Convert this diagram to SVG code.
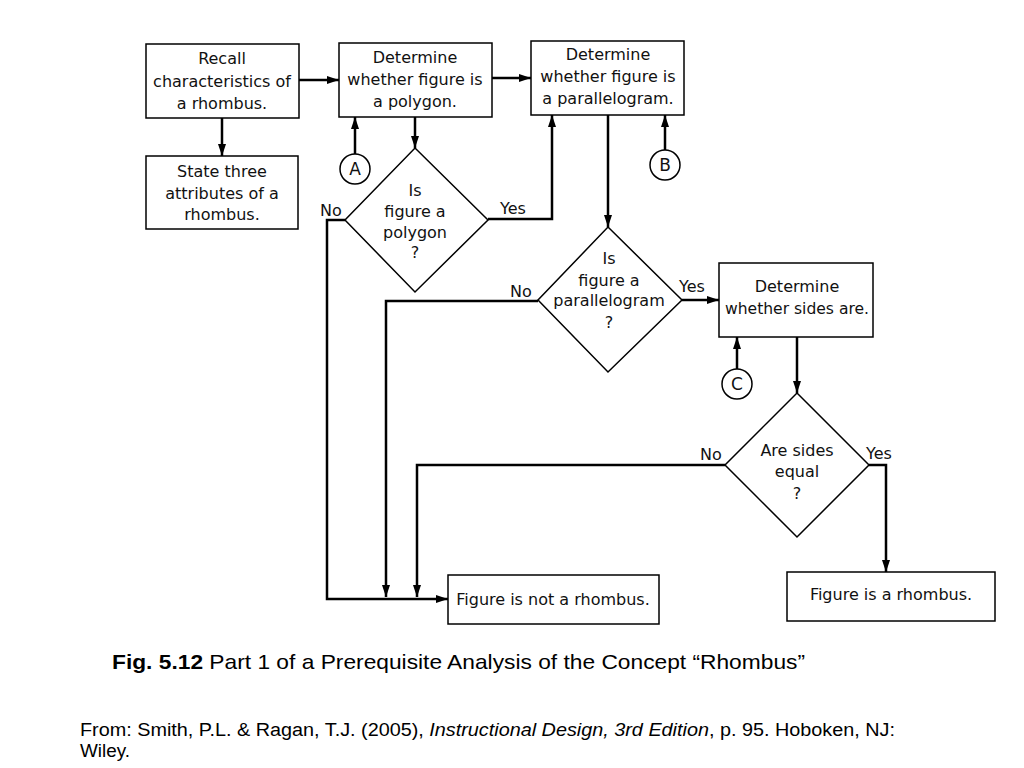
<svg xmlns="http://www.w3.org/2000/svg" width="1024" height="768" viewBox="0 0 1024 768">
<defs>
<marker id="ah" viewBox="0 0 12 8" refX="12" refY="4" markerWidth="12" markerHeight="8" markerUnits="userSpaceOnUse" orient="auto">
<path d="M0,0 L12,4 L0,8 Z" fill="#000"/>
</marker>
</defs>
<style>
.box{fill:#fff;stroke:#000;stroke-width:1.5}
.t{font-family:"DejaVu Sans",sans-serif;font-size:16px;text-anchor:middle;fill:#111}
.lb{font-family:"DejaVu Sans",sans-serif;font-size:16px;fill:#111}
.cl{font-family:"DejaVu Sans",sans-serif;font-size:17px;text-anchor:middle;fill:#111}
.c{fill:none;stroke:#000;stroke-width:2.5}
.a{marker-end:url(#ah)}
.cap{font-family:"Liberation Sans",Arial,sans-serif;fill:#000}
</style>
<rect width="1024" height="768" fill="#fff"/>
<g id="connectors">
<path class="c a" d="M299,80 H339"/>
<path class="c a" d="M492,78 H531"/>
<path class="c a" d="M222,118 V156"/>
<path class="c a" d="M355,154 V117"/>
<path class="c a" d="M415,117 V148"/>
<path class="c a" d="M665,150 V115"/>
<path class="c a" d="M488,219 H552 V115"/>
<path class="c a" d="M345,220 H327 V599 H448"/>
<path class="c a" d="M608,115 V227"/>
<path class="c a" d="M682,300 H719"/>
<path class="c a" d="M538,301 H386 V597"/>
<path class="c a" d="M737,369 V337"/>
<path class="c a" d="M797,337 V393"/>
<path class="c a" d="M725,465 H417 V597"/>
<path class="c a" d="M869,465 H886 V572"/>
</g>
<g id="recall">
<rect class="box" x="146" y="44" width="153" height="74"/>
<text class="t" x="222" y="64">Recall</text>
<text class="t" x="222" y="87">characteristics of</text>
<text class="t" x="222" y="109">a rhombus.</text>
</g>
<g id="state">
<rect class="box" x="146" y="156" width="152" height="73"/>
<text class="t" x="222" y="177">State three</text>
<text class="t" x="222" y="199">attributes of a</text>
<text class="t" x="222" y="220">rhombus.</text>
</g>
<g id="detPolygon">
<rect class="box" x="339" y="43" width="153" height="74"/>
<text class="t" x="415" y="63">Determine</text>
<text class="t" x="415" y="85">whether figure is</text>
<text class="t" x="415" y="107">a polygon.</text>
</g>
<g id="detParallelogram">
<rect class="box" x="531" y="41" width="153" height="74"/>
<text class="t" x="608" y="60">Determine</text>
<text class="t" x="608" y="82">whether figure is</text>
<text class="t" x="608" y="104">a parallelogram.</text>
</g>
<g id="circleA">
<circle class="box" cx="355" cy="169" r="15"/>
<text class="cl" x="355" y="175">A</text>
</g>
<g id="circleB">
<circle class="box" cx="665" cy="165" r="15"/>
<text class="cl" x="665" y="171">B</text>
</g>
<g id="isPolygon">
<polygon class="box" points="415,148 488,220 415,292 345,220"/>
<text class="t" x="415" y="196">Is</text>
<text class="t" x="415" y="217">figure a</text>
<text class="t" x="415" y="238">polygon</text>
<text class="t" x="415" y="258">?</text>
<text class="lb" x="320" y="216">No</text>
<text class="lb" x="500" y="214">Yes</text>
</g>
<g id="isParallelogram">
<polygon class="box" points="608,227 682,300 608,372 538,300"/>
<text class="t" x="609" y="264">Is</text>
<text class="t" x="609" y="286">figure a</text>
<text class="t" x="609" y="306">parallelogram</text>
<text class="t" x="609" y="328">?</text>
<text class="lb" x="510" y="297">No</text>
<text class="lb" x="679" y="292">Yes</text>
</g>
<g id="detSides">
<rect class="box" x="719" y="263" width="154" height="74"/>
<text class="t" x="797" y="292">Determine</text>
<text class="t" x="797" y="314" textLength="144" lengthAdjust="spacingAndGlyphs">whether sides are.</text>
</g>
<g id="circleC">
<circle class="box" cx="737" cy="384" r="15"/>
<text class="cl" x="737" y="390">C</text>
</g>
<g id="sidesEqual">
<polygon class="box" points="797,393 869,465 797,537 725,465"/>
<text class="t" x="797" y="456">Are sides</text>
<text class="t" x="797" y="477">equal</text>
<text class="t" x="797" y="499">?</text>
<text class="lb" x="700" y="460">No</text>
<text class="lb" x="866" y="459">Yes</text>
</g>
<g id="notRhombus">
<rect class="box" x="448" y="575" width="211" height="49"/>
<text class="t" x="553" y="605">Figure is not a rhombus.</text>
</g>
<g id="isRhombus">
<rect class="box" x="787" y="572" width="208" height="49"/>
<text class="t" x="891" y="600">Figure is a rhombus.</text>
</g>
<g id="caption">
<text class="cap" x="112" y="669" font-size="21" textLength="693" lengthAdjust="spacingAndGlyphs"><tspan font-weight="bold">Fig. 5.12</tspan> Part 1 of a Prerequisite Analysis of the Concept “Rhombus”</text>
<text class="cap" x="80" y="736" font-size="18" textLength="815" lengthAdjust="spacingAndGlyphs">From: Smith, P.L. &amp; Ragan, T.J. (2005), <tspan font-style="italic">Instructional Design, 3rd Edition</tspan>, p. 95. Hoboken, NJ:</text>
<text class="cap" x="80" y="757" font-size="18" textLength="50" lengthAdjust="spacingAndGlyphs">Wiley.</text>
</g>
</svg>
